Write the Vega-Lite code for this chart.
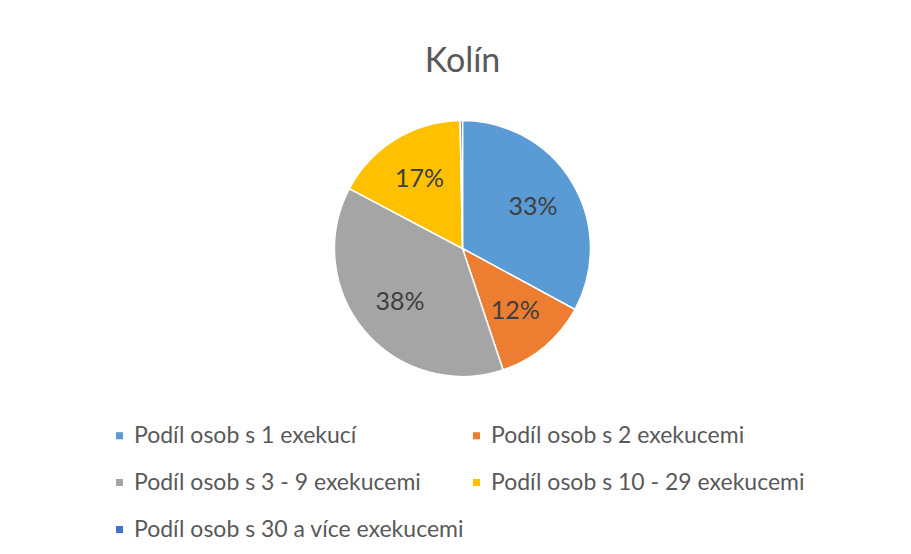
{
  "$schema": "https://vega.github.io/schema/vega-lite/v6.json",
  "width": 911,
  "height": 554,
  "autosize": {"type": "fit", "contains": "padding"},
  "padding": {"left": 108, "right": 94, "top": 45, "bottom": 12},
  "background": "white",
  "title": {
    "text": "Kolín",
    "font": "Lato",
    "fontSize": 34,
    "fontWeight": "normal",
    "color": "#595959",
    "offset": 16
  },
  "data": {
    "values": [
      {"cat": "Podíl osob s 1 exekucí", "value": 33, "label": "33%", "order": 1},
      {"cat": "Podíl osob s 2 exekucemi", "value": 12, "label": "12%", "order": 2},
      {"cat": "Podíl osob s 3 - 9 exekucemi", "value": 38, "label": "38%", "order": 3},
      {"cat": "Podíl osob s 10 - 29 exekucemi", "value": 17, "label": "17%", "order": 4},
      {"cat": "Podíl osob s 30 a více exekucemi", "value": 0.3, "label": "", "order": 5}
    ]
  },
  "encoding": {
    "theta": {"field": "value", "type": "quantitative", "stack": true},
    "order": {"field": "order", "type": "quantitative"}
  },
  "layer": [
    {
      "mark": {"type": "arc", "radius": 128, "stroke": "white", "strokeWidth": 1.5},
      "encoding": {
        "color": {
          "field": "cat",
          "type": "nominal",
          "scale": {
            "domain": ["Podíl osob s 1 exekucí", "Podíl osob s 2 exekucemi", "Podíl osob s 3 - 9 exekucemi", "Podíl osob s 10 - 29 exekucemi", "Podíl osob s 30 a více exekucemi"],
            "range": ["#5B9BD5", "#ED7D31", "#A5A5A5", "#FFC000", "#4472C4"]
          },
          "legend": {
            "title": null,
            "orient": "bottom",
            "direction": "horizontal",
            "columns": 2,
            "columnPadding": 0,
            "rowPadding": 23,
            "offset": 22,
            "symbolType": "square",
            "symbolSize": 50,
            "symbolOffset": 0,
            "symbolStrokeWidth": 0,
            "labelFont": "Lato",
            "labelFontSize": 23,
            "labelColor": "#595959",
            "labelLimit": 500,
            "labelOffset": 3
          }
        }
      }
    },
    {
      "mark": {"type": "text", "radius": 82, "font": "Lato", "fontSize": 25, "fill": "#404040"},
      "encoding": {
        "detail": {"field": "cat", "type": "nominal"},
        "text": {"field": "label", "type": "nominal"}
      }
    }
  ],
  "config": {"view": {"stroke": null}}
}
